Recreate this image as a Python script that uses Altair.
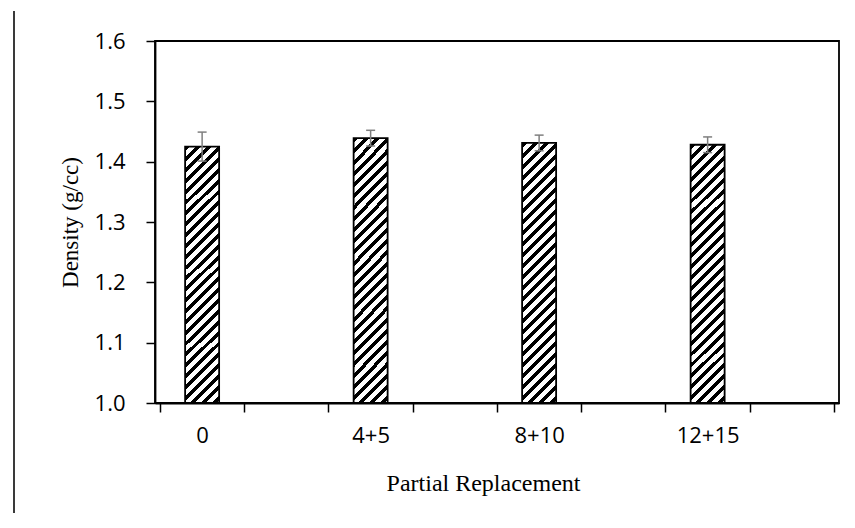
import math
import altair as alt
import pandas as pd

# ---- data ----
categories = ["0", "4+5", "8+10", "12+15"]
slots = [0, 2, 4, 6]            # category slot on an 8-slot axis (every other slot empty)
density = [1.425, 1.439, 1.431, 1.428]
error = [0.024, 0.013, 0.013, 0.013]
y_ticks = [1.0, 1.1, 1.2, 1.3, 1.4, 1.5, 1.6]
n_slots = 8

df = pd.DataFrame({"cat": categories, "slot": slots, "density": density, "err": error})

# ---- layout ----
W, H = 684, 362
BAR_W = 34

# diagonal hatch via hard-stop linear gradient (stripes "/")
bar_h = (sum(density) / len(density) - 1.0) / 0.6 * H
m = (BAR_W + bar_h) / (BAR_W ** 2 + bar_h ** 2)
gx, gy = BAR_W * m, bar_h * m
period = 11.0 / (BAR_W + bar_h)
stops = []
k = 0
while k * period < 1.0:
    s = k * period
    b_end = min(s + 0.45 * period, 1.0)
    e = min(s + period, 1.0)
    stops += [{"offset": round(s, 5), "color": "#000000"},
              {"offset": round(b_end, 5), "color": "#000000"},
              {"offset": round(b_end, 5), "color": "#ffffff"},
              {"offset": round(e, 5), "color": "#ffffff"}]
    k += 1
hatch = {"gradient": "linear", "x1": 0, "y1": 0, "x2": gx, "y2": gy, "stops": stops}

label_expr = " : ".join(
    f"datum.value == {s + 0.5} ? '{c}'" for s, c in zip(slots, categories)
) + " : ''"
x_values = [i / 2 for i in range(0, 2 * n_slots + 1)]

x_enc = alt.X(
    "pos:Q",
    scale=alt.Scale(domain=[0, n_slots], nice=False, zero=False),
    axis=alt.Axis(
        values=x_values,
        labelExpr=label_expr,
        labelOverlap=False,
        labelFlush=False,
        tickOpacity={"condition": {"test": "datum.value % 1 === 0", "value": 1}, "value": 0},
        tickSize=9,
        labelPadding=13,
        title="Partial Replacement",
        titleFontSize=24,
        titleX=328,
        titlePadding=25,
    ),
)
y_scale = alt.Scale(domain=[1.0, 1.6], nice=False, zero=False)

base = alt.Chart(df).transform_calculate(
    pos="datum.slot + 0.5",
    lo="datum.density - datum.err",
    hi="datum.density + datum.err",
    base="1.0",
)

bars = base.mark_bar(size=BAR_W, fill=hatch, stroke="#000000", strokeWidth=1.8).encode(
    x=x_enc,
    y=alt.Y(
        "density:Q",
        scale=y_scale,
        axis=alt.Axis(
            values=y_ticks,
            format=".1f",
            tickSize=9,
            labelPadding=21,
            title="Density (g/cc)",
            titlePadding=12,
        ),
    ),
    y2="base:Q",
)

err_col = "#7f7f7f"
err_line = base.mark_rule(color=err_col, strokeWidth=1.5).encode(
    x="pos:Q", y="lo:Q", y2="hi:Q"
)
cap_hi = base.mark_rule(color=err_col, strokeWidth=1.5, xOffset=-4.5, x2Offset=4.5).encode(
    x="pos:Q", x2="pos:Q", y="hi:Q"
)
cap_lo = base.mark_rule(color=err_col, strokeWidth=1.5, xOffset=-4.5, x2Offset=4.5).encode(
    x="pos:Q", x2="pos:Q", y="lo:Q"
)

# cropped figure border line at the far left of the image
border = alt.Chart(pd.DataFrame({"a": [0]})).mark_rule(color="#3a3a3a", strokeWidth=2).encode(
    x=alt.value(-141), y=alt.value(-30), y2=alt.value(479)
)

chart = (
    alt.layer(bars, err_line, cap_hi, cap_lo, border)
    .properties(
        width=W,
        height=H,
        autosize=alt.AutoSizeParams(type="none"),
        padding={"left": 147, "top": 33, "right": 8, "bottom": 110},
    )
    .configure_view(stroke="#000000", strokeWidth=1.8)
    .configure_axis(
        grid=False,
        domainColor="#000000",
        domainWidth=1.8,
        tickColor="#000000",
        tickWidth=1.5,
        labelColor="#000000",
        labelFont="Open Sans",
        labelFontSize=22,
        titleFont="Liberation Serif",
        titleFontSize=23,
        titleFontWeight="normal",
        titleColor="#000000",
    )
)

chart.save("out.html", embed_options={"renderer": "svg", "actions": False})
